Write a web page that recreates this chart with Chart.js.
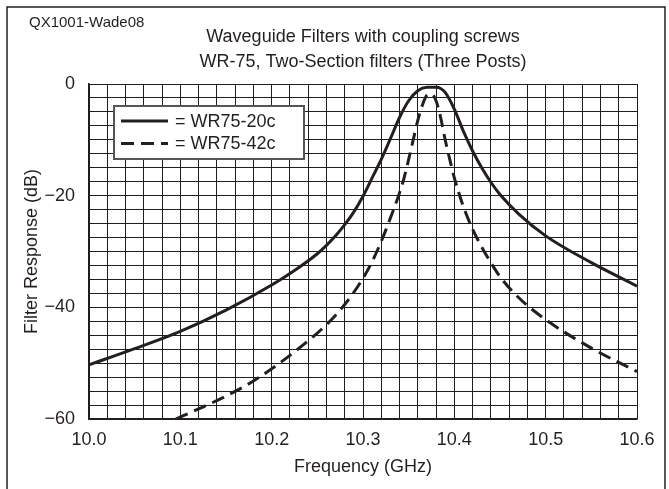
<!DOCTYPE html>
<html>
<head>
<meta charset="utf-8">
<script src="https://cdn.jsdelivr.net/npm/chart.js@4.4.1/dist/chart.umd.min.js"></script>
<style>
  html, body { margin: 0; padding: 0; background: #fff; }
  #wrap { width: 669px; height: 489px; }
</style>
</head>
<body>
<div id="wrap"><canvas id="chart" width="669" height="489"></canvas></div>
<script>
const FONT = "'Liberation Sans', Arial, Helvetica, sans-serif";
const INK = "#231f20";

const tagText = "QX1001-Wade08";
const titleLines = [
  "Waveguide Filters with coupling screws",
  "WR-75, Two-Section filters (Three Posts)",
];
const seriesLabels = ["WR75-20c", "WR75-42c"];

// WR75-20c response, frequency in GHz and loss in dB
const freq20 = [10.0, 10.05, 10.1, 10.15, 10.2, 10.225, 10.25, 10.26, 10.27, 10.28,
  10.29, 10.3, 10.31, 10.32, 10.33, 10.34, 10.35, 10.36, 10.37, 10.38,
  10.385, 10.39, 10.4, 10.41, 10.42, 10.43, 10.44, 10.45, 10.47, 10.5,
  10.55, 10.6];
const resp20 = [-50.3, -47.4, -44.3, -40.5, -36.0, -33.4, -30.4, -28.9, -27.2, -25.2,
  -22.9, -20.1, -16.8, -13.5, -9.8, -6.0, -3.0, -1.2, -0.6, -0.6,
  -0.8, -1.5, -4.5, -8.5, -12.0, -15.0, -17.6, -19.8, -23.2, -27.2,
  -32.0, -36.2];

// WR75-42c response
const freq42 = [10.095, 10.12, 10.15, 10.18, 10.2, 10.22, 10.25, 10.26, 10.27, 10.28,
  10.29, 10.3, 10.31, 10.32, 10.33, 10.34, 10.345, 10.35, 10.355, 10.36,
  10.365, 10.37, 10.375, 10.38, 10.385, 10.39, 10.395, 10.4, 10.41, 10.42,
  10.43, 10.44, 10.45, 10.47, 10.5, 10.55, 10.6];
const resp42 = [-60.0, -58.2, -55.9, -53.2, -51.0, -48.6, -44.6, -43.1, -41.4, -39.5,
  -37.3, -34.8, -31.8, -28.2, -24.0, -19.5, -16.8, -13.5, -10.0, -6.5,
  -3.8, -2.0, -1.8, -3.0, -6.0, -10.0, -13.5, -16.8, -22.0, -26.0,
  -29.2, -32.0, -34.5, -38.2, -42.2, -47.3, -51.5];

const xMin = 10.0, xMax = 10.6, xStep = 0.02;
const yMin = -60, yMax = 0, yStep = 2.5;

const toPoints = (xs, ys) => xs.map((x, i) => ({ x, y: ys[i] }));

// frame, tag, two-line title and the boxed legend inside the plot
const decorations = {
  id: "decorations",
  afterDraw(chart) {
    const { ctx, chartArea } = chart;
    ctx.save();

    ctx.strokeStyle = INK;
    ctx.lineWidth = 1.5;
    ctx.beginPath();
    ctx.moveTo(7, 495);
    ctx.lineTo(7, 7);
    ctx.lineTo(665, 7);
    ctx.lineTo(665, 495);
    ctx.stroke();

    ctx.fillStyle = INK;
    ctx.textBaseline = "middle";
    ctx.font = "15px " + FONT;
    ctx.textAlign = "left";
    ctx.fillText(tagText, 29, 23);

    ctx.font = "18px " + FONT;
    ctx.textAlign = "center";
    const cx = (chartArea.left + chartArea.right) / 2;
    titleLines.forEach((line, i) => ctx.fillText(line, cx, 37 + i * 25.5));

    // legend box
    const bx = 114, by = 106, bw = 190, bh = 53;
    ctx.fillStyle = "#fff";
    ctx.fillRect(bx, by, bw, bh);
    ctx.strokeStyle = "#555";
    ctx.lineWidth = 2;
    ctx.strokeRect(bx, by, bw, bh);

    chart.data.datasets.forEach((ds, i) => {
      const y = 121 + i * 22.5;
      ctx.strokeStyle = ds.borderColor;
      ctx.lineWidth = ds.borderWidth;
      ctx.setLineDash(ds.borderDash || []);
      ctx.beginPath();
      ctx.moveTo(121, y);
      ctx.lineTo(168, y);
      ctx.stroke();
      ctx.setLineDash([]);
      ctx.fillStyle = INK;
      ctx.textAlign = "left";
      ctx.font = "18px " + FONT;
      ctx.fillText("= " + ds.label, 175, y + 1);
    });

    ctx.restore();
  },
};

new Chart(document.getElementById("chart"), {
  type: "line",
  data: {
    datasets: [
      {
        label: seriesLabels[0],
        data: toPoints(freq20, resp20),
        borderColor: INK,
        borderWidth: 3,
        pointRadius: 0,
        cubicInterpolationMode: "monotone",
        fill: false,
      },
      {
        label: seriesLabels[1],
        data: toPoints(freq42, resp42),
        borderColor: INK,
        borderWidth: 3,
        borderDash: [13, 7],
        pointRadius: 0,
        cubicInterpolationMode: "monotone",
        fill: false,
      },
    ],
  },
  options: {
    responsive: false,
    animation: false,
    devicePixelRatio: 1,
    layout: { padding: { top: 84, right: 32, bottom: 0, left: 0 } },
    plugins: {
      legend: { display: false },
      tooltip: { enabled: false },
    },
    scales: {
      x: {
        type: "linear",
        min: xMin,
        max: xMax,
        afterFit: (scale) => { scale.height = 70; },
        ticks: {
          stepSize: xStep,
          autoSkip: false,
          maxRotation: 0,
          padding: 10,
          color: INK,
          font: { family: FONT, size: 18 },
          callback: (v) => (Math.round(v * 100) % 10 === 0 ? v.toFixed(1) : ""),
        },
        grid: { color: "#1e1e1e", lineWidth: 1, drawTicks: false },
        border: { color: INK, width: 1.5 },
        title: {
          display: true,
          text: "Frequency (GHz)",
          color: INK,
          font: { family: FONT, size: 18 },
          padding: { top: 0, bottom: 11 },
        },
      },
      y: {
        min: yMin,
        max: yMax,
        afterFit: (scale) => { scale.width = 89; },
        ticks: {
          stepSize: yStep,
          autoSkip: false,
          padding: 14,
          color: INK,
          font: { family: FONT, size: 18 },
          callback: (v) => (v % 20 === 0 ? (v === 0 ? "0" : "\u2212" + Math.abs(v)) : ""),
        },
        grid: { color: "#1e1e1e", lineWidth: 1, drawTicks: false },
        border: { color: INK, width: 1.5 },
        title: {
          display: true,
          text: "Filter Response (dB)",
          color: INK,
          font: { family: FONT, size: 18 },
          padding: { top: 21, bottom: 0 },
        },
      },
    },
  },
  plugins: [decorations],
});
</script>
</body>
</html>
